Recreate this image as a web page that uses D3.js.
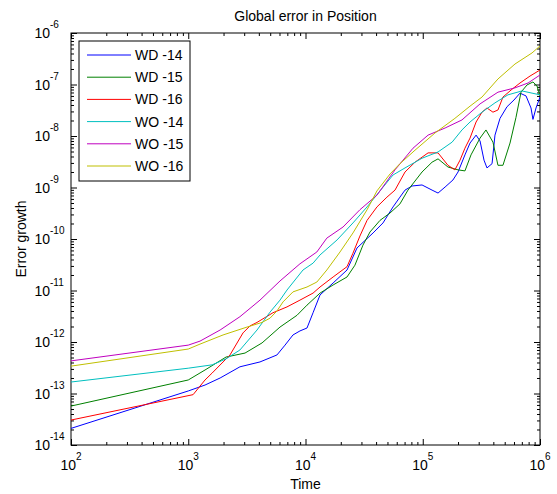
<!DOCTYPE html>
<html>
<head>
<meta charset="utf-8">
<script src="https://cdn.jsdelivr.net/npm/d3@7"></script>
<style>
  body { margin: 0; background: #fff; }
  text { font-family: "Liberation Sans", Arial, sans-serif; fill: #000; }
</style>
</head>
<body>
<div id="chart"></div>
<script>
// series data (time, error)
var tWD14 = [100, 1000, 1390, 1870, 2760, 4090, 5710, 6690, 7820, 8970, 1.03e4, 1.16e4, 1.33e4, 1.72e4, 2.26e4, 2.75e4, 3.77e4, 4.58e4, 5.58e4, 6.39e4, 7.06e4, 8.1e4, 9.86e4, 1.2e5, 1.35e5, 1.55e5, 1.81e5, 2.0e5, 2.29e5, 2.53e5, 2.85e5, 3.08e5, 3.33e5, 3.53e5, 3.9e5, 4.13e5, 4.56e5, 5.23e5, 6.0e5, 6.75e5, 7.6e5, 8.38e5, 8.71e5, 9.25e5, 1e6];
var eWD14 = [2.1e-14, 1.12e-13, 1.46e-13, 2.0e-13, 3.3e-13, 4.1e-13, 5.6e-13, 8.7e-13, 1.37e-12, 1.64e-12, 1.87e-12, 3.7e-12, 8.2e-12, 1.4e-11, 2.5e-11, 6.7e-11, 1.31e-10, 2.05e-10, 4.2e-10, 6.5e-10, 8.9e-10, 1.07e-9, 1.12e-9, 8.9e-10, 7.8e-10, 1.02e-9, 1.4e-9, 2.0e-9, 4.3e-9, 7.3e-9, 1.04e-8, 8.0e-9, 3.4e-9, 2.4e-9, 2.9e-9, 1.04e-8, 2.2e-8, 3.7e-8, 5.0e-8, 6.8e-8, 6.0e-8, 3.5e-8, 2.1e-8, 3.5e-8, 5.7e-8];

var tWD15 = [100, 1000, 1390, 2100, 3050, 4260, 6060, 8460, 1.03e4, 1.33e4, 1.72e4, 2.26e4, 2.64e4, 3.09e4, 3.55e4, 4.32e4, 5.26e4, 6.39e4, 7.48e4, 9.86e4, 1.2e5, 1.35e5, 1.64e5, 2.0e5, 2.29e5, 2.58e5, 3.08e5, 3.46e5, 3.97e5, 4.38e5, 4.83e5, 5.55e5, 6.24e5, 6.89e5, 7.75e5, 8.71e5, 9.42e5, 1e6];
var eWD15 = [5.7e-14, 1.83e-13, 2.86e-13, 5.1e-13, 6.1e-13, 9.6e-13, 1.95e-12, 3.3e-12, 5.2e-12, 8.9e-12, 1.28e-11, 1.83e-11, 3.1e-11, 7.6e-11, 1.37e-10, 2.3e-10, 3.2e-10, 4.8e-10, 8.9e-10, 2.0e-9, 3.1e-9, 3.6e-9, 2.5e-9, 2.2e-9, 2.1e-9, 4.3e-9, 9.1e-9, 1.31e-8, 7.6e-9, 2.7e-9, 2.7e-9, 7.3e-9, 2.3e-8, 7.1e-8, 9.8e-8, 1.12e-7, 9.4e-8, 6.0e-8];

var tWD16 = [100, 1100, 1390, 1600, 2270, 2930, 3360, 3860, 5280, 6950, 8970, 1.16e4, 1.33e4, 1.72e4, 2.26e4, 2.54e4, 2.91e4, 3.35e4, 4.07e4, 4.95e4, 5.8e4, 7.06e4, 8.59e4, 1.11e5, 1.35e5, 1.64e5, 1.88e5, 2.08e5, 2.29e5, 2.53e5, 2.85e5, 3.2e5, 3.53e5, 3.97e5, 4.38e5, 4.83e5, 5.66e5, 6.75e5, 8.22e5, 1e6];
var eWD16 = [3.05e-14, 9.5e-14, 1.83e-13, 2.5e-13, 5.6e-13, 1.5e-12, 2.05e-12, 2.4e-12, 3.7e-12, 4.8e-12, 6.5e-12, 8.9e-12, 1.17e-11, 1.83e-11, 2.9e-11, 5.3e-11, 1.14e-10, 2.3e-10, 4.2e-10, 6.5e-10, 8.9e-10, 2.0e-9, 3.1e-9, 4.7e-9, 4.7e-9, 2.7e-9, 2.2e-9, 3.4e-9, 5.8e-9, 9.1e-9, 1.87e-8, 2.9e-8, 3.5e-8, 2.9e-8, 3.2e-8, 5.7e-8, 7.8e-8, 1.07e-7, 1.46e-7, 1.91e-7];

var tWO14 = [100, 1000, 1600, 2100, 2760, 3860, 4980, 6060, 6950, 9520, 1.16e4, 1.33e4, 1.86e4, 2.54e4, 3.35e4, 4.32e4, 5.58e4, 7.06e4, 9.86e4, 1.35e5, 1.78e5, 2.16e5, 2.53e5, 3.2e5, 4.13e5, 5.33e5, 7.02e5, 8.55e5, 1e6];
var eWO14 = [1.67e-13, 3.1e-13, 3.6e-13, 4.7e-13, 7.0e-13, 1.71e-12, 3.8e-12, 6.5e-12, 1.02e-11, 2.5e-11, 3.4e-11, 4.9e-11, 9.6e-11, 2.05e-10, 4.2e-10, 8.6e-10, 1.75e-9, 2.4e-9, 3.7e-9, 4.9e-9, 7.6e-9, 1.31e-8, 1.87e-8, 2.9e-8, 4.4e-8, 6.3e-8, 7.5e-8, 6.8e-8, 6.3e-8];

var tWO15 = [100, 1000, 1260, 1870, 2760, 4090, 6060, 8970, 1.25e4, 1.52e4, 2.09e4, 2.91e4, 4.07e4, 5.8e4, 8.26e4, 1.11e5, 1.55e5, 2.16e5, 3.08e5, 4.38e5, 6.12e5, 7.91e5, 1e6];
var eWO15 = [4.3e-13, 8.7e-13, 1.04e-12, 1.71e-12, 3.1e-12, 6.5e-12, 1.53e-11, 3.3e-11, 5.6e-11, 1.04e-10, 1.71e-10, 3.7e-10, 7.1e-10, 2.2e-9, 5.8e-9, 1.04e-8, 1.43e-8, 2.05e-8, 4.2e-8, 7.1e-8, 8.6e-8, 1.07e-7, 1.53e-7];

var tWO16 = [100, 1000, 1260, 1980, 3170, 4260, 4980, 5710, 6430, 7820, 1.03e4, 1.25e4, 1.52e4, 1.97e4, 2.54e4, 3.35e4, 4.07e4, 5.26e4, 6.39e4, 8.59e4, 1.27e5, 1.88e5, 2.53e5, 3.2e5, 4.38e5, 6.12e5, 8.55e5, 1e6];
var eWO16 = [3.4e-13, 7.3e-13, 9.1e-13, 1.37e-12, 1.95e-12, 2.4e-12, 2.9e-12, 4.0e-12, 6.0e-12, 9.4e-12, 1.17e-11, 1.46e-11, 2.5e-11, 5.6e-11, 1.31e-10, 3.7e-10, 8.6e-10, 1.83e-9, 2.9e-9, 5.3e-9, 1.14e-8, 2.2e-8, 3.8e-8, 5.7e-8, 1.28e-7, 2.5e-7, 4.1e-7, 5.6e-7];

var seriesNames = ["WD -14", "WD -15", "WD -16", "WO -14", "WO -15", "WO -16"];
var seriesColors = ["#0000ff", "#008000", "#ff0000", "#00bfbf", "#bf00bf", "#bfbf00"];
var seriesT = [tWD14, tWD15, tWD16, tWO14, tWO15, tWO16];
var seriesE = [eWD14, eWD15, eWD16, eWO14, eWO15, eWO16];

var xExp = [2, 3, 4, 5, 6];
var yExp = [-14, -13, -12, -11, -10, -9, -8, -7, -6];

// canvas
var W = 557, H = 494;
var margin = {top: 33, right: 17, bottom: 49, left: 71};
var width = W - margin.left - margin.right;
var height = H - margin.top - margin.bottom;

var svg = d3.select("#chart")
    .append("svg")
    .attr("width", W)
    .attr("height", H);

var g = svg.append("g")
    .attr("transform", "translate(" + margin.left + "," + margin.top + ")");

var xScale = d3.scaleLog().domain([1e2, 1e6]).range([0, width]);
var yScale = d3.scaleLog().domain([1e-14, 1e-6]).range([height, 0]);

// major and minor tick values
var xMajor = xExp.map(function(e) { return Math.pow(10, e); });
var yMajor = yExp.map(function(e) { return Math.pow(10, e); });
function minors(majors) {
    var out = [];
    for (var i = 0; i < majors.length - 1; i++) {
        for (var k = 2; k <= 9; k++) out.push(majors[i] * k);
    }
    return out;
}
var xMinor = minors(xMajor);
var yMinor = minors(yMajor);

function tickAxis(axisFn, scale, vals, size, transform) {
    var a = g.append("g")
        .attr("transform", transform || null)
        .call(axisFn(scale).tickValues(vals).tickSizeInner(size).tickSizeOuter(0).tickFormat(""));
    a.select(".domain").remove();
    a.selectAll("line").attr("stroke", "#000");
}
// ticks point inward on all four sides
tickAxis(d3.axisBottom, xScale, xMajor, -6, "translate(0," + height + ")");
tickAxis(d3.axisBottom, xScale, xMinor, -3, "translate(0," + height + ")");
tickAxis(d3.axisTop, xScale, xMajor, -6);
tickAxis(d3.axisTop, xScale, xMinor, -3);
tickAxis(d3.axisLeft, yScale, yMajor, -6);
tickAxis(d3.axisLeft, yScale, yMinor, -3);
tickAxis(d3.axisRight, yScale, yMajor, -6, "translate(" + width + ",0)");
tickAxis(d3.axisRight, yScale, yMinor, -3, "translate(" + width + ",0)");

// box
g.append("rect")
    .attr("width", width)
    .attr("height", height)
    .attr("fill", "none")
    .attr("stroke", "#000")
    .attr("stroke-width", 1);

// tick labels 10^n
xExp.forEach(function(e) {
    var px = xScale(Math.pow(10, e));
    g.append("text")
        .attr("x", px + 5).attr("y", height + 25)
        .attr("text-anchor", "end")
        .style("font-size", "14px")
        .text("10");
    g.append("text")
        .attr("x", px + 5).attr("y", height + 15)
        .style("font-size", "10px")
        .text(e);
});
yExp.forEach(function(e) {
    var py = yScale(Math.pow(10, e));
    g.append("text")
        .attr("x", -21).attr("y", py + 5)
        .attr("text-anchor", "end")
        .style("font-size", "14px")
        .text("10");
    g.append("text")
        .attr("x", -21).attr("y", py - 5)
        .style("font-size", "10px")
        .text(e);
});

// data lines
g.append("clipPath").attr("id", "clip")
    .append("rect").attr("width", width).attr("height", height);

var line = d3.line()
    .x(function(d) { return xScale(d[0]); })
    .y(function(d) { return yScale(d[1]); });

seriesNames.forEach(function(name, i) {
    var pts = seriesT[i].map(function(t, j) { return [t, seriesE[i][j]]; });
    g.append("path")
        .datum(pts)
        .attr("clip-path", "url(#clip)")
        .attr("fill", "none")
        .attr("stroke", seriesColors[i])
        .attr("stroke-width", 1)
        .attr("d", line);
});

// title and axis labels
svg.append("text")
    .attr("x", margin.left + width / 2).attr("y", 21)
    .attr("text-anchor", "middle")
    .style("font-size", "14px")
    .text("Global error in Position");

svg.append("text")
    .attr("x", margin.left + width / 2).attr("y", 489)
    .attr("text-anchor", "middle")
    .style("font-size", "14px")
    .text("Time");

svg.append("text")
    .attr("transform", "translate(26," + (margin.top + height / 2) + ") rotate(-90)")
    .attr("text-anchor", "middle")
    .style("font-size", "14px")
    .text("Error growth");

// legend
var lg = svg.append("g").attr("transform", "translate(79,41)");
lg.append("rect")
    .attr("width", 111).attr("height", 140)
    .attr("fill", "#fff")
    .attr("stroke", "#000");
seriesNames.forEach(function(name, i) {
    var y = 14 + i * 22.2;
    lg.append("line")
        .attr("x1", 8).attr("x2", 52)
        .attr("y1", y).attr("y2", y)
        .attr("stroke", seriesColors[i]);
    lg.append("text")
        .attr("x", 56).attr("y", y + 5)
        .style("font-size", "14px")
        .text(name);
});
</script>
</body>
</html>
